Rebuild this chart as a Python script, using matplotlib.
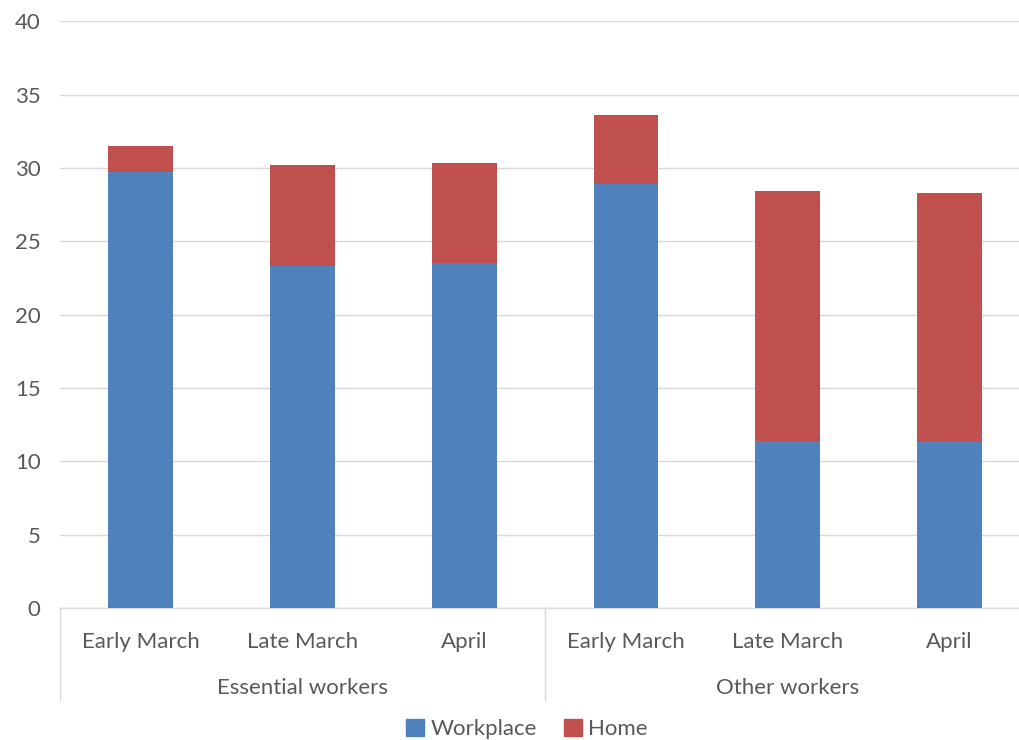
import matplotlib
matplotlib.use("Agg")
import matplotlib.pyplot as plt
from matplotlib.patches import Patch
import numpy as np

# Values
periods = ["Early March", "Late March", "April"]
groups = ["Essential workers", "Other workers"]
workplace = [29.7, 23.3, 23.5, 28.9, 11.4, 11.4]
home = [1.8, 6.9, 6.85, 4.7, 17.0, 16.9]
yticks = [0, 5, 10, 15, 20, 25, 30, 35, 40]

BLUE = "#4F81BD"
RED = "#C0504D"
GRID = "#D9D9D9"
TEXT = "#595959"
FS = 16

plt.rcParams['font.family'] = ['Lato', 'DejaVu Sans']

fig = plt.figure(figsize=(10.19, 7.4), dpi=100)
ax = fig.add_axes([60 / 1019, 132 / 740, 970 / 1019, (608.3 - 21.5) / 740])

x = np.arange(len(workplace))
ax.bar(x, workplace, width=0.4, color=BLUE, zorder=3)
ax.bar(x, home, width=0.4, bottom=workplace, color=RED, zorder=3)

ax.set_xlim(-0.5, len(workplace) - 0.5)
ax.set_ylim(0, 40)
ax.set_yticks(yticks)
ax.set_yticklabels([str(t) for t in yticks], fontsize=FS, color=TEXT)
ax.tick_params(axis='y', length=0, pad=14)
ax.set_xticks([])
ax.yaxis.grid(True, color=GRID, linewidth=1, zorder=0)

for side in ['left', 'right', 'top']:
    ax.spines[side].set_visible(False)
ax.spines['bottom'].set_color(GRID)
ax.spines['bottom'].set_linewidth(1)

# multi-level category axis
trans = ax.get_xaxis_transform()
for i in x:
    ax.text(i, -0.058, periods[i % 3], transform=trans, ha='center', va='center',
            fontsize=FS, color=TEXT)
for g, name in enumerate(groups):
    ax.text(g * 3 + 1, -0.136, name, transform=trans, ha='center', va='center',
            fontsize=FS, color=TEXT)
for b in [-0.5, 2.5, 5.5]:
    ax.plot([b, b], [0, -0.157], transform=trans, color=GRID, linewidth=1, clip_on=False)

handles = [Patch(color=BLUE, label="Workplace"), Patch(color=RED, label="Home")]
fig.legend(handles=handles, loc='center', bbox_to_anchor=(527 / 1019, 11 / 740), ncol=2,
           frameon=False, fontsize=FS, labelcolor=TEXT, handlelength=0.8, handleheight=0.8,
           handletextpad=0.3, columnspacing=1.2)

fig.savefig("out.png", dpi=100)
